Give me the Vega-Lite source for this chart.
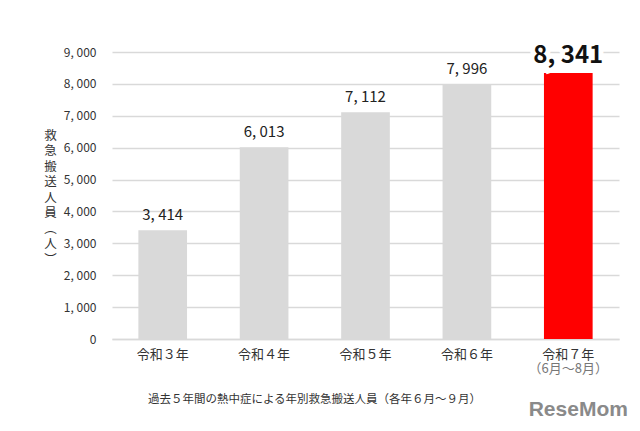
{
  "$schema": "https://vega.github.io/schema/vega-lite/v6.json",
  "autosize": {"type": "none"},
  "width": 507,
  "height": 287,
  "padding": {"left": 112, "top": 52, "right": 21, "bottom": 92},
  "background": "white",
  "config": {
    "locale": {"number": {"decimal": ".", "thousands": ", ", "grouping": [3], "currency": ["", ""]}},
    "view": {"stroke": null},
    "font": "Noto Sans CJK JP"
  },
  "data": {
    "values": [
      {"year": "令和３年", "count": 3414},
      {"year": "令和４年", "count": 6013},
      {"year": "令和５年", "count": 7112},
      {"year": "令和６年", "count": 7996},
      {"year": "令和７年", "count": 8341}
    ]
  },
  "encoding": {
    "x": {
      "field": "year", "type": "nominal", "sort": null,
      "scale": {"paddingInner": 0.52, "paddingOuter": 0.26},
      "axis": {
        "title": null, "labelAngle": 0, "ticks": false, "domain": true,
        "domainColor": "#d9d9d9", "domainWidth": 1.5,
        "labelFontSize": 13, "labelColor": "#333333", "labelPadding": 9,
        "labelFont": "Noto Sans CJK JP"
      }
    },
    "y": {
      "field": "count", "type": "quantitative",
      "scale": {"domain": [0, 9000], "nice": false},
      "axis": {
        "values": [0, 1000, 2000, 3000, 4000, 5000, 6000, 7000, 8000, 9000],
        "format": ",.0f",
        "domain": false, "ticks": false,
        "gridColor": "#d9d9d9", "gridWidth": 1.5,
        "labelFontSize": 12, "labelColor": "#333333", "labelPadding": 16,
        "labelFont": "Noto Sans CJK JP",
        "title": ["救", "急", "搬", "送", "人", "員", "︵", "人", "︶"],
        "titleAngle": 0, "titleX": -62, "titleY": 83,
        "titleAlign": "center", "titleBaseline": "middle",
        "titleFontSize": 12.5, "titleLineHeight": 15.5,
        "titleFontWeight": "normal", "titleColor": "#333333",
        "titleFont": "Noto Sans CJK JP"
      }
    }
  },
  "layer": [
    {
      "mark": {"type": "bar"},
      "encoding": {
        "color": {
          "condition": {"test": "datum.year === '令和７年'", "value": "#ff0000"},
          "value": "#d9d9d9"
        }
      }
    },
    {
      "transform": [{"filter": "datum.year !== '令和７年'"}],
      "mark": {
        "type": "text", "baseline": "alphabetic", "dy": -10,
        "fontSize": 15, "color": "#222222", "font": "Noto Sans CJK JP"
      },
      "encoding": {"text": {"field": "count", "type": "quantitative", "format": ",.0f"}}
    },
    {
      "transform": [{"filter": "datum.year === '令和７年'"}],
      "mark": {
        "type": "text", "baseline": "alphabetic", "dy": -10,
        "fontSize": 24, "fontWeight": "bold", "color": "white",
        "stroke": "white", "strokeWidth": 10, "font": "Noto Sans CJK JP"
      },
      "encoding": {"text": {"field": "count", "type": "quantitative", "format": ",.0f"}}
    },
    {
      "transform": [{"filter": "datum.year === '令和７年'"}],
      "mark": {
        "type": "text", "baseline": "alphabetic", "dy": -10,
        "fontSize": 24, "fontWeight": "bold", "color": "#111111",
        "font": "Noto Sans CJK JP"
      },
      "encoding": {"text": {"field": "count", "type": "quantitative", "format": ",.0f"}}
    },
    {
      "data": {"values": [{"year": "令和７年", "base": 0, "note": "（6月～8月）"}]},
      "mark": {
        "type": "text", "baseline": "middle", "dy": 30,
        "fontSize": 13, "color": "#777777", "font": "Noto Sans CJK JP"
      },
      "encoding": {
        "y": {"field": "base", "type": "quantitative"},
        "text": {"field": "note", "type": "nominal"}
      }
    },
    {
      "data": {"values": [{"year": "令和５年", "base": 0, "caption": "過去５年間の熱中症による年別救急搬送人員（各年６月～９月）"}]},
      "mark": {
        "type": "text", "baseline": "middle", "dy": 61, "dx": -51,
        "fontSize": 11.5, "color": "#333333", "font": "Noto Sans CJK JP"
      },
      "encoding": {
        "y": {"field": "base", "type": "quantitative"},
        "text": {"field": "caption", "type": "nominal"}
      }
    },
    {
      "data": {"values": [{"year": "令和７年", "base": 0, "logo": "ReseMom"}]},
      "mark": {
        "type": "text", "baseline": "middle", "dy": 71, "dx": 10,
        "fontSize": 21, "fontWeight": "bold", "color": "#8a8a8a",
        "font": "Liberation Sans"
      },
      "encoding": {
        "y": {"field": "base", "type": "quantitative"},
        "text": {"field": "logo", "type": "nominal"}
      }
    }
  ]
}
